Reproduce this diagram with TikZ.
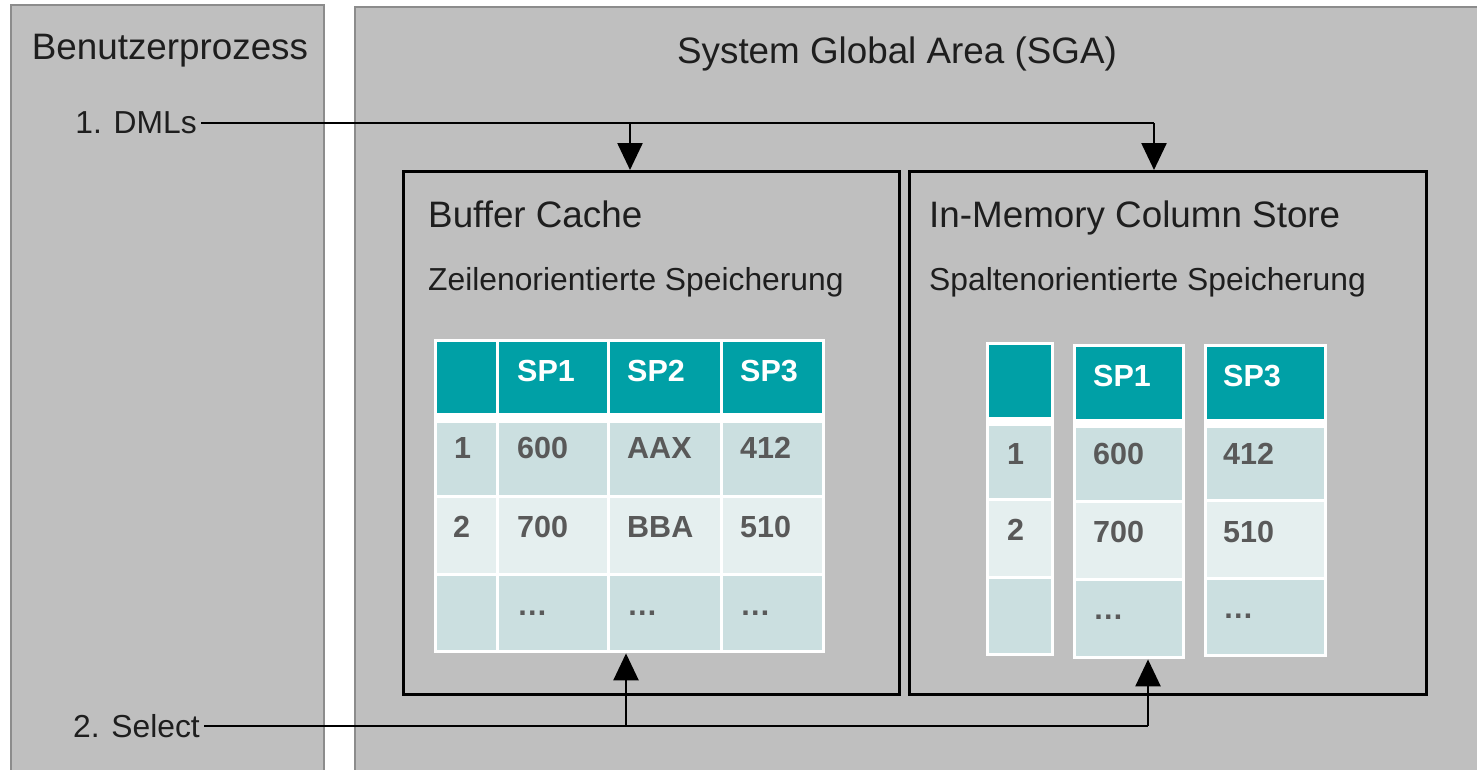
\documentclass[tikz,border=0pt]{standalone}
\usepackage{fontspec}
\setmainfont{Liberation Sans}
\usetikzlibrary{arrows.meta}
\definecolor{bgray}{RGB}{191,191,191}
\definecolor{fgray}{RGB}{140,140,140}
\definecolor{hdr}{RGB}{0,160,166}
\definecolor{rowA}{RGB}{203,223,224}
\definecolor{rowB}{RGB}{229,239,239}
\definecolor{celltxt}{RGB}{89,89,89}
\definecolor{ttxt}{RGB}{30,30,30}
\tikzset{
  areabox/.style={draw=fgray, line width=2pt, fill=bgray},
  innerbox/.style={draw=black, line width=2.5pt, inner sep=0pt, anchor=north west},
  bigtitle/.style={font=\fontsize{36.8}{44}\selectfont, text=ttxt, inner sep=0pt, anchor=base},
  subtitle/.style={font=\fontsize{36.8}{44}\selectfont, text=ttxt, inner sep=0pt, anchor=base west},
  subsub/.style={font=\fontsize{31.8}{38}\selectfont, text=ttxt, inner sep=0pt, anchor=base west},
  steplabel/.style={font=\fontsize{31.8}{38}\selectfont, text=ttxt, inner sep=4pt, anchor=east},
  tblbg/.style={fill=white, inner sep=0pt, anchor=north west},
  htxt/.style={font=\fontsize{30.5}{36}\selectfont\bfseries, text=white, inner sep=0pt, anchor=base west},
  ctxt/.style={font=\fontsize{30.5}{36}\selectfont\bfseries, text=celltxt, inner sep=0pt, anchor=base west},
  wire/.style={line width=2.5pt, draw=black},
  arr/.style={line width=2.5pt, draw=black, -{Triangle[width=25pt,length=27pt]}},
}
\newcommand{\cellrow}[4]{% #1 xlist, #2 top, #3 bottom, #4 color
  \foreach \xa/\xb in {#1} {\fill[#4] (\xa,#2) rectangle (\xb,#3);}}
\begin{document}
\begin{tikzpicture}[x=1pt,y=-1pt]
\useasboundingbox (0,0) rectangle (1477,769);
\clip (0,0) rectangle (1477,769);
\fill[white] (0,0) rectangle (1477,769);

% outer areas
\draw[areabox] (11,5) rectangle (324,800);
\draw[areabox] (355,7) rectangle (1500,800);
\node[bigtitle] (ben) at (170,59) {Benutzerprozess};
\node[bigtitle] (sga) at (897,63) {System Global Area (SGA)};

% inner boxes
\node[innerbox, minimum width=496pt, minimum height=523pt] (bc) at (402,170) {};
\node[innerbox, minimum width=517pt, minimum height=523pt] (ims) at (908,170) {};
\node[subtitle] (bct) at (428,227) {Buffer Cache};
\node[subsub] (bcs) at (428,290) {Zeilenorientierte Speicherung};
\node[subtitle] (imt) at (929,227) {In-Memory Column Store};
\node[subsub] (ims2) at (929,290) {Spaltenorientierte Speicherung};

% left table
\node[tblbg, minimum width=391pt, minimum height=314pt] (tL) at (434,339) {};
\cellrow{437/496,499/607,610/720,723/822}{342}{413}{hdr}
\cellrow{437/496,499/607,610/720,723/822}{423}{495}{rowA}
\cellrow{437/496,499/607,610/720,723/822}{498}{573}{rowB}
\cellrow{437/496,499/607,610/720,723/822}{576}{650}{rowA}
\node[htxt] (lh1) at (517,381) {SP1};
\node[htxt] (lh2) at (627,381) {SP2};
\node[htxt] (lh3) at (740,381) {SP3};
\node[ctxt] (l10) at (454,458) {1};
\node[ctxt] (l11) at (517,458) {600};
\node[ctxt] (l12) at (627,458) {AAX};
\node[ctxt] (l13) at (740,458) {412};
\node[ctxt] (l20) at (453,537) {2};
\node[ctxt] (l21) at (517,537) {700};
\node[ctxt] (l22) at (627,537) {BBA};
\node[ctxt] (l23) at (740,537) {510};
\node[ctxt] (l31) at (517,615) {…};
\node[ctxt] (l32) at (627,615) {…};
\node[ctxt] (l33) at (740,615) {…};

% right tables
\node[tblbg, minimum width=68pt, minimum height=314pt] (tR0) at (986,342) {};
\cellrow{989/1051}{345}{417}{hdr}
\cellrow{989/1051}{426}{498}{rowA}
\cellrow{989/1051}{501}{576}{rowB}
\cellrow{989/1051}{579}{653}{rowA}
\node[ctxt] (r10) at (1007,464) {1};
\node[ctxt] (r20) at (1007,540) {2};

\node[tblbg, minimum width=112pt, minimum height=315pt] (tR1) at (1073,344) {};
\cellrow{1076/1182}{347}{419}{hdr}
\cellrow{1076/1182}{428}{500}{rowA}
\cellrow{1076/1182}{503}{578}{rowB}
\cellrow{1076/1182}{581}{656}{rowA}
\node[htxt] (rh1) at (1093,386) {SP1};
\node[ctxt] (r11) at (1093,464) {600};
\node[ctxt] (r21) at (1093,542) {700};
\node[ctxt] (r31) at (1093,619) {…};

\node[tblbg, minimum width=123pt, minimum height=313pt] (tR3) at (1204,344) {};
\cellrow{1207/1324}{347}{419}{hdr}
\cellrow{1207/1324}{428}{499}{rowA}
\cellrow{1207/1324}{502}{577}{rowB}
\cellrow{1207/1324}{580}{654}{rowA}
\node[htxt] (rh3) at (1223,386) {SP3};
\node[ctxt] (r13) at (1223,464) {412};
\node[ctxt] (r23) at (1223,542) {510};
\node[ctxt] (r33) at (1223,618) {…};

% step labels and connectors
\node[steplabel] (dml) at (201,123) {1. DMLs};
\node[steplabel] (sel) at (204,726) {2. Select};
\coordinate (jA) at (630,0);
\coordinate (jB) at (1154,0);
\coordinate (kA) at (626,0);
\coordinate (kB) at (1148,0);
\draw[wire] (dml.east) -- (dml.east -| jB);
\draw[arr] (dml.east -| jA) -- (jA |- bc.north);
\draw[arr] (dml.east -| jB) -- (jB |- ims.north);
\draw[wire] (sel.east) -- (sel.east -| kB);
\draw[arr] (sel.east -| kA) -- (kA |- tL.south);
\draw[arr] (sel.east -| kB) -- (kB |- tR1.south);
\end{tikzpicture}
\end{document}
